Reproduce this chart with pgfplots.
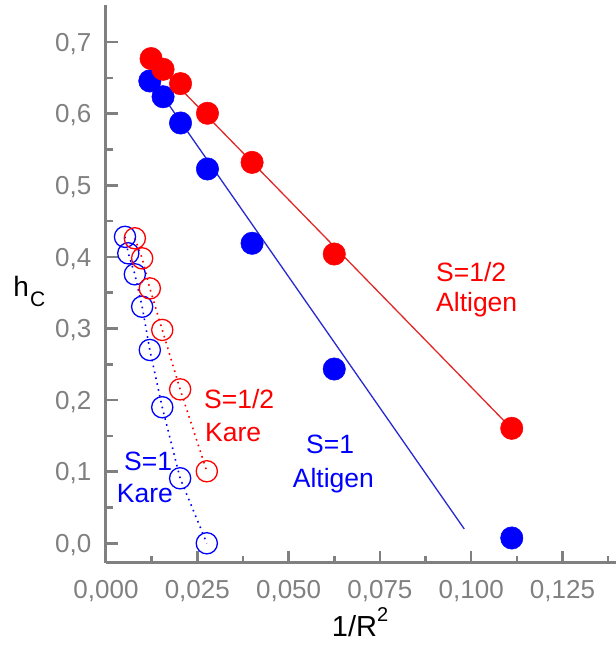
\documentclass[border=0pt]{standalone}
\usepackage{pgfplots}
\pgfplotsset{compat=1.18}
\usepackage{fontspec}
\setmainfont{Liberation Sans}
\definecolor{axgray}{RGB}{128,128,128}
\definecolor{myred}{RGB}{255,0,0}
\definecolor{myblue}{RGB}{0,0,255}
\definecolor{linered}{RGB}{225,40,40}
\definecolor{lineblue}{RGB}{40,40,210}
\begin{document}
\begin{tikzpicture}
\useasboundingbox (-106pt,-88.3pt) rectangle (510pt,562.7pt);
\begin{axis}[
  scale only axis, width=511.3pt, height=557.7pt,
  xmin=0, xmax=0.14, ymin=-0.0271, ymax=0.7518,
  axis x line*=bottom, axis y line*=left,
  axis line style={axgray, line width=3pt, -},
  xtick={0,0.025,0.05,0.075,0.1,0.125},
  minor xtick={0.0125,0.0375,0.0625,0.0875,0.1125,0.1375},
  ytick={0,0.1,0.2,0.3,0.4,0.5,0.6,0.7},
  minor ytick={0.05,0.15,0.25,0.35,0.45,0.55,0.65},
  tick align=inside,
  major tick length=12pt, minor tick length=7pt,
  tick style={axgray, line width=2.5pt},
  /pgf/number format/assume math mode=true,
  ticklabel style={font=\fontsize{26}{30}\selectfont, text=axgray},
  xticklabel style={anchor=base, inner sep=0pt, yshift=-35.8pt,
    /pgf/number format/.cd, fixed, fixed zerofill, precision=3, use comma},
  yticklabel style={anchor=base east, inner sep=0pt, xshift=-14.5pt, yshift=-9.3pt,
    /pgf/number format/.cd, fixed, fixed zerofill, precision=1, use comma},
  scaled x ticks=false, scaled y ticks=false,
  clip=false,
]
% fit lines
\addplot[lineblue, line width=1.3pt] coordinates {(0.01235,0.648) (0.0981,0.020)};
\addplot[linered, line width=1.3pt] coordinates {(0.01235,0.677) (0.1111,0.160)};
% dotted lines (Kare)
\addplot[myblue, line width=1.6pt, dash pattern=on 1.6pt off 4.4pt] coordinates {
(0.0052,0.428) (0.0061,0.405) (0.0079,0.3757) (0.0099,0.3304) (0.0120,0.270) (0.0154,0.190) (0.0203,0.0908) (0.0276,0.0)};
\addplot[myred, line width=1.6pt, dash pattern=on 1.6pt off 4.4pt] coordinates {
(0.0079,0.426) (0.0099,0.398) (0.0120,0.356) (0.0154,0.298) (0.0203,0.215) (0.0276,0.1006)};
% filled markers (Altigen)
\addplot[only marks, mark=*, mark size=11.2pt, myblue, mark options={fill=myblue, draw=myblue, line width=0.5pt}] coordinates {
(0.0120,0.6457) (0.01563,0.6237) (0.02041,0.587) (0.02778,0.5228) (0.04,0.419) (0.0625,0.2434) (0.1111,0.0074)};
\addplot[only marks, mark=*, mark size=11.2pt, myred, mark options={fill=myred, draw=myred, line width=0.5pt}] coordinates {
(0.01235,0.677) (0.01563,0.662) (0.02041,0.642) (0.02778,0.6006) (0.04,0.532) (0.0625,0.4040) (0.1111,0.1606)};
% open markers (Kare)
\addplot[only marks, mark=o, mark size=10.6pt, myblue, mark options={line width=1.3pt, solid}] coordinates {
(0.0052,0.428) (0.0061,0.405) (0.0079,0.3757) (0.0099,0.3304) (0.0120,0.270) (0.0154,0.190) (0.0203,0.0908) (0.0276,0.0)};
\addplot[only marks, mark=o, mark size=10.6pt, myred, mark options={line width=1.3pt, solid}] coordinates {
(0.0079,0.426) (0.0099,0.398) (0.0120,0.356) (0.0154,0.298) (0.0203,0.215) (0.0276,0.1006)};
\end{axis}
% axis labels
\node[anchor=base west, inner sep=0pt] at (-92.7pt,265.7pt)
  {\fontsize{28}{32}\selectfont h\hspace{1pt}\raisebox{-9.7pt}{\fontsize{21}{22}\selectfont C}};
\node[anchor=base west, inner sep=0pt] at (225.7pt,-74pt)
  {\fontsize{29}{32}\selectfont 1/R\raisebox{15pt}{\fontsize{20}{22}\selectfont 2}};
% annotations
\begingroup
\fontsize{26.5}{30}\selectfont
\node[anchor=base west, inner sep=0pt, text=myred] at (330pt,281pt) {S=1/2};
\node[anchor=base west, inner sep=0pt, text=myred] at (330pt,250.7pt) {Altigen};
\node[anchor=base west, inner sep=0pt, text=myred] at (98pt,154.4pt) {S=1/2};
\node[anchor=base west, inner sep=0pt, text=myred] at (99pt,121pt) {Kare};
\node[anchor=base west, inner sep=0pt, text=myblue] at (200pt,108.7pt) {S=1};
\node[anchor=base west, inner sep=0pt, text=myblue] at (186.7pt,75.4pt) {Altigen};
\node[anchor=base west, inner sep=0pt, text=myblue] at (18pt,92pt) {S=1};
\node[anchor=base west, inner sep=0pt, text=myblue] at (10.7pt,59.7pt) {Kare};
\endgroup
\end{tikzpicture}
\end{document}
